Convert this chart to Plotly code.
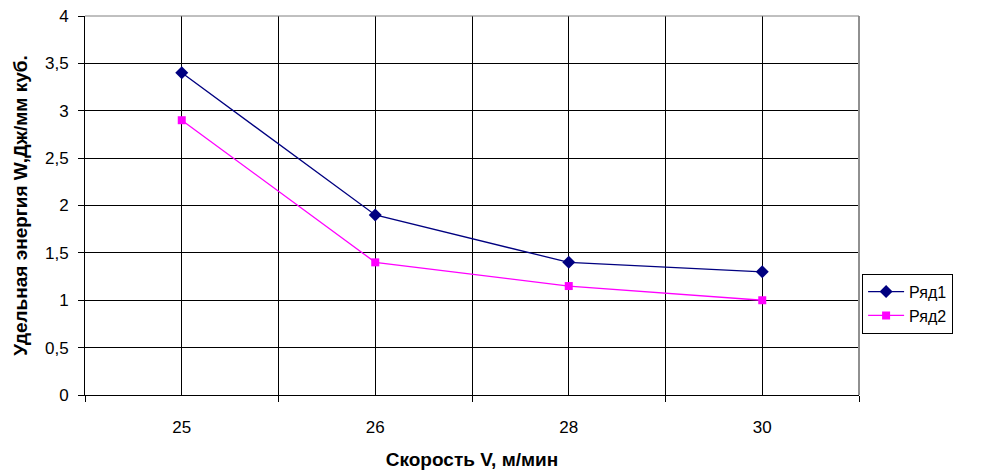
import plotly.graph_objects as go

categories = ["25", "26", "28", "30"]
series1_name = "Ряд1"
series1 = [3.4, 1.9, 1.4, 1.3]
series2_name = "Ряд2"
series2 = [2.9, 1.4, 1.15, 1.0]
x_title = "Скорость V, м/мин"
y_title = "Удельная энергия W,Дж/мм куб."

xpos = list(range(len(categories)))
bounds = [i - 0.5 for i in range(len(categories) + 1)]

fig = go.Figure()
fig.add_trace(go.Scatter(
    x=xpos, y=series1, name=series1_name, mode="lines+markers",
    line=dict(color="#000080", width=1.3),
    marker=dict(symbol="diamond", size=10, color="#000080"),
))
fig.add_trace(go.Scatter(
    x=xpos, y=series2, name=series2_name, mode="lines+markers",
    line=dict(color="#FF00FF", width=1.3),
    marker=dict(symbol="square", size=8, color="#FF00FF"),
))

fig.update_layout(
    width=982, height=470,
    margin=dict(l=85, r=123, t=16, b=75, autoexpand=False),
    paper_bgcolor="white", plot_bgcolor="white",
    separators=", ",
    font=dict(family="Liberation Sans, Arial, sans-serif", size=17, color="black"),
    legend=dict(
        x=1.004, y=0.32, xanchor="left", yanchor="top",
        bordercolor="black", borderwidth=1, bgcolor="white",
        font=dict(size=16), tracegroupgap=0, itemwidth=36,
    ),
    xaxis=dict(
        range=[-0.5, len(categories) - 0.5], automargin=False,
        tickmode="array", tickvals=xpos, ticktext=categories,
        ticks="", showgrid=True, gridcolor="black", gridwidth=1,
        showline=True, linecolor="black", linewidth=1,
        zeroline=False, ticklabelstandoff=17,
        tickfont=dict(size=17),
        minor=dict(tickvals=bounds, ticks="outside", ticklen=6,
                   tickcolor="black", showgrid=True, gridcolor="black", gridwidth=1),
        title=dict(text="<b>" + x_title + "</b>", font=dict(size=19), standoff=16),
    ),
    yaxis=dict(
        range=[0, 4], dtick=0.5, tick0=0, automargin=False,
        ticks="outside", ticklen=6, tickcolor="black",
        showgrid=True, gridcolor="black", gridwidth=1,
        showline=True, linecolor="black", linewidth=1,
        zeroline=False, ticklabelstandoff=6,
        tickfont=dict(size=17),
        title=dict(text="<b>" + y_title + "</b>", font=dict(size=19), standoff=12),
    ),
)

fig.add_shape(type="line", xref="paper", yref="paper", x0=1, x1=1, y0=0, y1=1,
              line=dict(color="#909090", width=2))
fig.add_shape(type="line", xref="paper", yref="paper", x0=0, x1=1, y0=1, y1=1,
              line=dict(color="#808080", width=1))

fig.write_html("out.html")
